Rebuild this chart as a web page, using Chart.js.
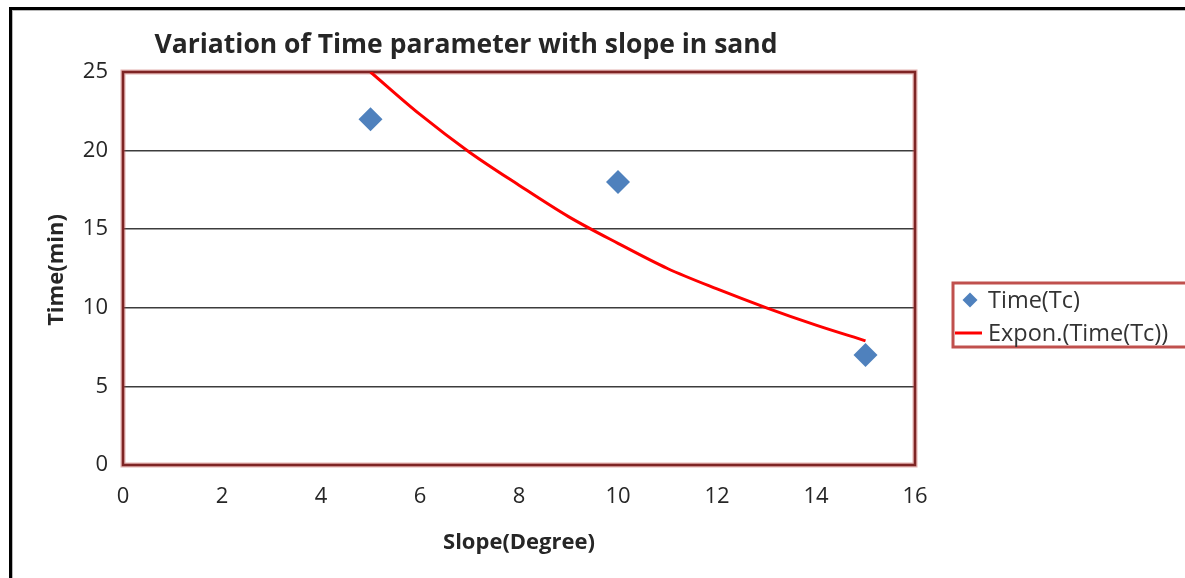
<!DOCTYPE html>
<html>
<head>
<meta charset="utf-8">
<title>Variation of Time parameter with slope in sand</title>
<script src="https://cdn.jsdelivr.net/npm/chart.js@4.4.1/dist/chart.umd.min.js"></script>
<style>
  html, body { margin: 0; padding: 0; background: #fff; }
  #wrap { position: relative; width: 1185px; height: 578px; overflow: hidden; }
  #wrap canvas { position: absolute; left: 0; top: 0; }
  /* sheet frame seen at the top and left edge of the picture */
  #frame {
    position: absolute; left: 9px; top: 7px; right: -5px; bottom: -5px;
    border-left: 3px solid #000; border-top: 3px solid #000;
    box-shadow: inset 1px 1px 0 #b8b8b8;
    pointer-events: none;
  }
</style>
</head>
<body>
<div id="wrap">
  <canvas id="chart" width="1185" height="578"></canvas>
  <div id="frame"></div>
</div>
<script>
// Measured points
const slopes = [5, 10, 15];
const timeTc = [22, 18, 7];

// Exponential trend line
const trendSlopes = [5, 6, 7, 8, 9, 10, 11, 12, 13, 14, 15];
const trendTime = [25.0, 22.3, 19.9, 17.8, 15.8, 14.1, 12.5, 11.2, 10.0, 8.9, 7.9];

// Axis ranges / ticks
const xRange = [0, 16];
const xStep = 2;
const yRange = [0, 25];
const yStep = 5;

const chartTitle = 'Variation of Time parameter with slope in sand';
const xTitle = 'Slope(Degree)';
const yTitle = 'Time(min)';
const seriesNames = ['Time(Tc)', 'Expon.(Time(Tc))'];

const FONT = "'Open Sans', 'Noto Sans', sans-serif";
const TEXT = '#262626';

/**
 * Draws the plot frame, title, axis titles and the boxed legend
 */
const decorPlugin = {
    id: 'decor',
    beforeDatasetsDraw(chart) {
        const { ctx, chartArea: a } = chart;
        ctx.save();
        ctx.strokeStyle = 'rgba(192, 80, 77, 0.45)';
        ctx.lineWidth = 5;
        ctx.strokeRect(a.left, a.top, a.right - a.left, a.bottom - a.top);
        ctx.strokeStyle = '#7e2424';
        ctx.lineWidth = 2.5;
        ctx.strokeRect(a.left, a.top, a.right - a.left, a.bottom - a.top);
        ctx.restore();
    },
    afterDraw(chart) {
        const { ctx } = chart;
        ctx.save();
        ctx.fillStyle = TEXT;
        ctx.textBaseline = 'middle';

        // title
        ctx.textAlign = 'center';
        ctx.font = `bold 26.5px ${FONT}`;
        ctx.fillText(chartTitle, 466, 45);

        // axis titles
        ctx.font = `bold 22px ${FONT}`;
        ctx.fillText(xTitle, 519, 543);
        ctx.save();
        ctx.translate(57, 270);
        ctx.rotate(-Math.PI / 2);
        ctx.fillText(yTitle, 0, 0);
        ctx.restore();

        // legend box
        ctx.strokeStyle = '#c0504d';
        ctx.lineWidth = 3;
        ctx.strokeRect(953, 283, 260, 64);

        const scatterDs = chart.data.datasets[0];
        const trendDs = chart.data.datasets[1];
        ctx.fillStyle = scatterDs.backgroundColor;
        Chart.helpers.drawPoint(ctx, { pointStyle: 'rectRot', radius: 7.5, borderWidth: 0 }, 970, 300);

        ctx.strokeStyle = trendDs.borderColor;
        ctx.lineWidth = 3;
        ctx.beginPath();
        ctx.moveTo(955, 333);
        ctx.lineTo(982, 333);
        ctx.stroke();

        ctx.fillStyle = '#333';
        ctx.textAlign = 'left';
        ctx.font = `23.5px ${FONT}`;
        ctx.fillText(seriesNames[0], 988, 301);
        ctx.fillText(seriesNames[1], 988, 334);
        ctx.restore();
    }
};

const ctx = document.getElementById('chart').getContext('2d');
new Chart(ctx, {
    type: 'scatter',
    data: {
        datasets: [
            {
                label: seriesNames[0],
                data: slopes.map((x, i) => ({ x, y: timeTc[i] })),
                backgroundColor: '#4f81bd',
                borderColor: '#4f81bd',
                pointStyle: 'rectRot',
                pointRadius: 12,
                pointBorderWidth: 0,
                order: 1
            },
            {
                label: seriesNames[1],
                data: trendSlopes.map((x, i) => ({ x, y: trendTime[i] })),
                showLine: true,
                borderColor: '#ff0000',
                backgroundColor: '#ff0000',
                borderWidth: 3,
                pointRadius: 0,
                cubicInterpolationMode: 'monotone',
                order: 2
            }
        ]
    },
    options: {
        responsive: false,
        animation: false,
        layout: { padding: { left: 0, top: 72, right: 270, bottom: 0 } },
        plugins: {
            legend: { display: false },
            title: { display: false },
            tooltip: { enabled: false }
        },
        scales: {
            x: {
                type: 'linear',
                min: xRange[0],
                max: xRange[1],
                ticks: { stepSize: xStep, padding: 19, color: TEXT, font: { family: FONT, size: 22 } },
                grid: { display: false, drawTicks: false },
                border: { display: false },
                afterFit: s => { s.height = 113; }
            },
            y: {
                type: 'linear',
                min: yRange[0],
                max: yRange[1],
                ticks: { stepSize: yStep, padding: 15, color: TEXT, font: { family: FONT, size: 22 } },
                grid: { color: '#3c3c3c', lineWidth: 1.5, drawTicks: false },
                border: { display: false },
                afterFit: s => { s.width = 123; }
            }
        }
    },
    plugins: [decorPlugin]
});
</script>
</body>
</html>
